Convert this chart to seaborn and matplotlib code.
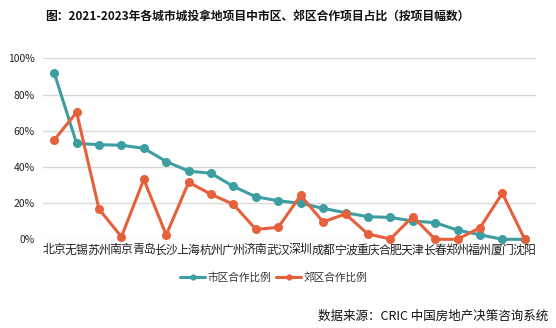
import matplotlib
matplotlib.use("Agg")
import matplotlib.pyplot as plt
import seaborn as sns
import pandas as pd
from matplotlib.ticker import FuncFormatter

cities = ["北京", "无锡", "苏州", "南京", "青岛", "长沙", "上海", "杭州", "广州", "济南", "武汉",
          "深圳", "成都", "宁波", "重庆", "合肥", "天津", "长春", "郑州", "福州", "厦门", "沈阳"]
urban = [92, 53, 52.3, 52, 50.3, 43, 37.7, 36.5, 29.2, 23.5, 21.3,
         19.9, 17.1, 14.7, 12.5, 12.1, 10.1, 9.2, 5.1, 2.5, 0, 0]
suburb = [54.9, 70.2, 16.7, 1.4, 33.1, 2.4, 31.5, 24.9, 19.3, 5.5, 6.6,
          24.3, 9.6, 14.0, 2.9, 0.2, 12.5, 0, 0, 6.4, 25.4, 0]
series_names = ["市区合作比例", "郊区合作比例"]
yticks = [0, 20, 40, 60, 80, 100]

sns.set_theme(style="white")
plt.rcParams['font.family'] = ['Noto Sans CJK SC', 'DejaVu Sans']

df = pd.DataFrame({
    "city": cities * 2,
    "x": list(range(len(cities))) * 2,
    "value": [v / 100 for v in urban] + [v / 100 for v in suburb],
    "series": [series_names[0]] * len(cities) + [series_names[1]] * len(cities),
})

fig = plt.figure(figsize=(5.56, 3.28), dpi=100)
ax = fig.add_axes([0.0773, 0.2704, 0.8867, 0.5516])
palette = {series_names[0]: "#3C9EA1", series_names[1]: "#E6603C"}
sns.lineplot(data=df, x="x", y="value", hue="series", hue_order=series_names,
             palette=palette, marker="o", markersize=6.5, markeredgewidth=0,
             linewidth=2.2, sort=False, ax=ax, clip_on=False, zorder=3)

ax.set_xlim(-0.5, len(cities) - 0.5)
ax.set_ylim(0, 1)
ax.set_xticks(range(len(cities)))
ax.set_xticklabels(cities, fontsize=8.6, color="#222222")
ax.set_yticks([t / 100 for t in yticks])
ax.yaxis.set_major_formatter(FuncFormatter(lambda v, p: f"{int(round(v*100))}%"))
ax.tick_params(axis="y", labelsize=7.5, colors="#222222", length=0, pad=6)
ax.tick_params(axis="x", length=0, pad=3)
ax.grid(axis="y", color="#D9D9D9", linewidth=1)
ax.set_axisbelow(True)
for s in ax.spines.values():
    s.set_visible(False)
ax.set_xlabel("")
ax.set_ylabel("")

leg = ax.legend(loc="center", bbox_to_anchor=(274 / 556, 1 - 277 / 328),
                bbox_transform=fig.transFigure, ncol=2, frameon=False,
                fontsize=7.7, handlelength=2.3, columnspacing=0.45, handletextpad=0.27)
for t in leg.get_texts():
    t.set_color("#333333")
for h in leg.legend_handles:
    h.set_markersize(4.5)
    h.set_linewidth(2.2)

fig.text(257 / 556, 1 - 16 / 328, "图：2021-2023年各城市城投拿地项目中市区、郊区合作项目占比（按项目幅数）",
         ha="center", va="center", fontsize=8.5, fontweight="bold", color="#111111")
fig.text(548 / 556, 1 - 316 / 328, "数据来源：CRIC 中国房地产决策咨询系统",
         ha="right", va="center", fontsize=9, color="#111111")

fig.savefig("out.png", dpi=100)
